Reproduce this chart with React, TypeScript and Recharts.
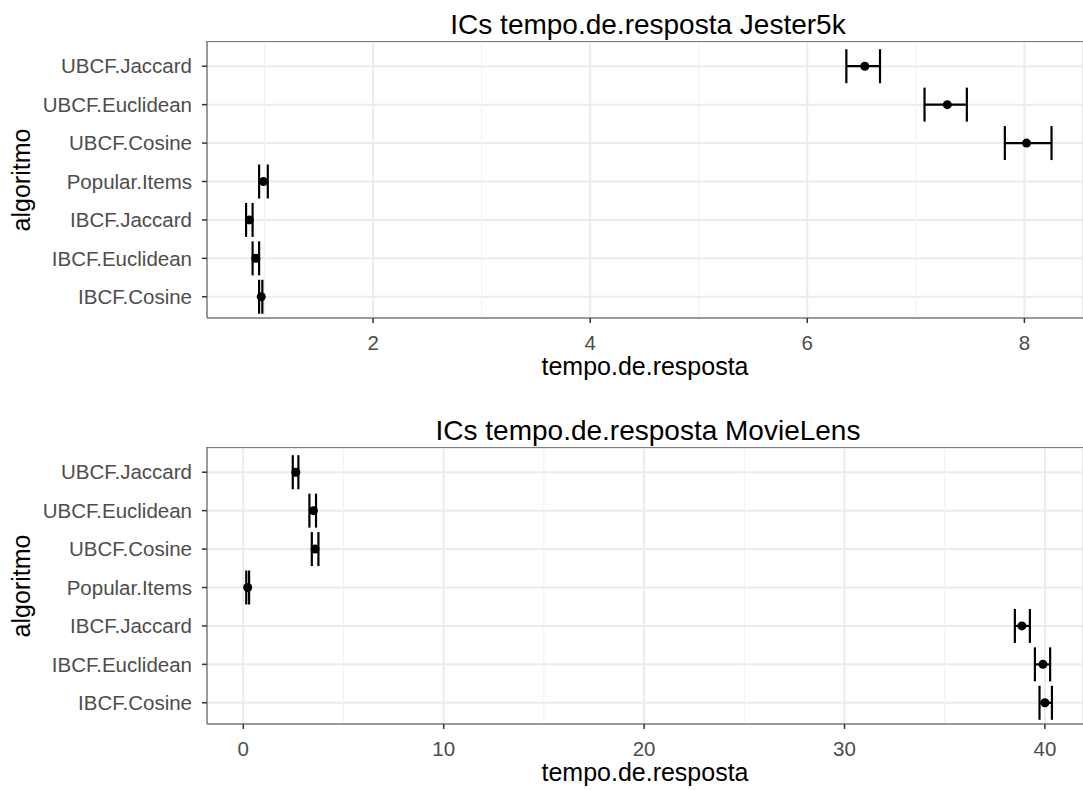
import { ScatterChart, Scatter, XAxis, YAxis, ZAxis, CartesianGrid, ErrorBar, ReferenceLine } from "recharts";

const algoritmos = [
    "UBCF.Jaccard",
    "UBCF.Euclidean",
    "UBCF.Cosine",
    "Popular.Items",
    "IBCF.Jaccard",
    "IBCF.Euclidean",
    "IBCF.Cosine"
];

// Jester5k: média e limites do IC
const jesterMedia = [6.53, 7.29, 8.02, 0.99, 0.86, 0.92, 0.97];
const jesterInf = [6.36, 7.08, 7.82, 0.95, 0.83, 0.89, 0.95];
const jesterSup = [6.67, 7.47, 8.25, 1.03, 0.89, 0.95, 0.98];
const jesterTicks = [2, 4, 6, 8];
const jesterMinor = [1, 3, 5, 7];

// MovieLens
const movieMedia = [2.62, 3.5, 3.58, 0.22, 38.85, 39.9, 40.0];
const movieInf = [2.47, 3.3, 3.42, 0.15, 38.5, 39.5, 39.73];
const movieSup = [2.75, 3.63, 3.75, 0.29, 39.25, 40.26, 40.35];
const movieTicks = [0, 10, 20, 30, 40];
const movieMinor = [5, 15, 25, 35];

const buildRows = (media: number[], inf: number[], sup: number[]) =>
    algoritmos.map((alg, i) => ({
        alg,
        tempo: media[i],
        ic: [media[i] - inf[i], sup[i] - media[i]]
    }));

const BORDER = "#7F7F7F";

function Painel({ titulo, rows, domain, ticks, minor, top }: any) {
    return (
        <div style={{ position: "absolute", left: 0, top, width: 1083, height: 406 }}>
            <div
                style={{
                    position: "absolute",
                    left: 207,
                    width: 882,
                    top: 11,
                    textAlign: "center",
                    fontSize: 28,
                    lineHeight: "28px",
                    color: "#000"
                }}
            >
                {titulo}
            </div>
            <ScatterChart width={1083} height={406} margin={{ top: 42, right: 0, bottom: 0, left: 0 }}>
                <CartesianGrid stroke="#EBEBEB" strokeWidth={2} />
                {minor.map((v: number) => (
                    <ReferenceLine key={v} x={v} stroke="#F2F2F2" strokeWidth={1.2} />
                ))}
                <XAxis
                    type="number"
                    dataKey="tempo"
                    domain={domain}
                    allowDataOverflow
                    ticks={ticks}
                    height={88}
                    tickSize={5}
                    tickMargin={12}
                    tick={{ fontSize: 20.5, fill: "#4D4D4D" }}
                    tickLine={{ stroke: "#333", strokeWidth: 1.5 }}
                    axisLine={{ stroke: BORDER, strokeWidth: 1.5 }}
                    label={{ value: "tempo.de.resposta", position: "center", dy: 4, fill: "#000", fontSize: 25 }}
                />
                <YAxis
                    type="category"
                    dataKey="alg"
                    reversed
                    width={207}
                    padding={{ top: 5, bottom: 2 }}
                    tickSize={5}
                    tickMargin={10}
                    tick={{ fontSize: 20.5, fill: "#4D4D4D" }}
                    tickLine={{ stroke: "#333", strokeWidth: 1.5 }}
                    axisLine={{ stroke: BORDER, strokeWidth: 1.5 }}
                    label={{ value: "algoritmo", angle: -90, position: "center", dx: -82, fill: "#000", fontSize: 25 }}
                />
                <ZAxis range={[80, 80]} />
                <Scatter data={rows} fill="#000" isAnimationActive={false}>
                    <ErrorBar dataKey="ic" direction="x" width={17} stroke="#000" strokeWidth={2.2} isAnimationActive={false} />
                </Scatter>
            </ScatterChart>
            {/* borda superior do painel */}
            <div
                style={{
                    position: "absolute",
                    left: 206,
                    top: 41,
                    width: 877,
                    borderTop: `1.5px solid ${BORDER}`,
                    pointerEvents: "none"
                }}
            />
        </div>
    );
}

export default function App() {
    return (
        <div
            style={{
                position: "absolute",
                left: 0,
                top: 0,
                width: 1083,
                height: 790,
                background: "#fff",
                overflow: "hidden",
                fontFamily: "'Liberation Sans', Arial, sans-serif"
            }}
        >
            <Painel
                titulo="ICs tempo.de.resposta Jester5k"
                rows={buildRows(jesterMedia, jesterInf, jesterSup)}
                domain={[0.47, 8.54]}
                ticks={jesterTicks}
                minor={jesterMinor}
                top={0}
            />
            <Painel
                titulo="ICs tempo.de.resposta MovieLens"
                rows={buildRows(movieMedia, movieInf, movieSup)}
                domain={[-1.81, 41.9]}
                ticks={movieTicks}
                minor={movieMinor}
                top={406}
            />
        </div>
    );
}
